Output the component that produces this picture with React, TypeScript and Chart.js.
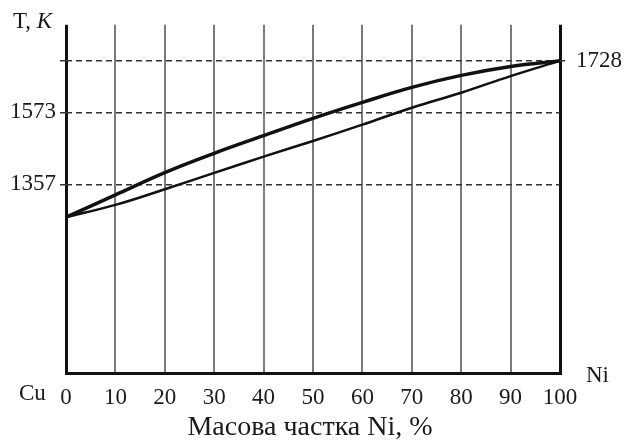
import React, { useEffect, useRef } from "react";
import { Chart, registerables } from "chart.js";

Chart.register(...registerables);

// Mass fraction of Ni, %
const niPercent = [0, 10, 20, 30, 40, 50, 60, 70, 80, 90, 100];
// Liquidus (upper curve), K
const liquidus = [1258, 1325, 1392, 1450, 1503, 1555, 1603, 1648, 1684, 1711, 1728];
// Solidus (lower curve), K
const solidus = [1258, 1295, 1342, 1391, 1440, 1487, 1536, 1587, 1632, 1682, 1728];
// Marked temperatures on the axis, K
const leftTicks = [1357, 1573];
const rightTicks = [1728];
const xTicks = [0, 10, 20, 30, 40, 50, 60, 70, 80, 90, 100];

const SERIF = "'Liberation Serif', 'Times New Roman', serif";
const INK = "#1a1a1a";

const textPlugin = {
  id: "diagramText",
  afterDraw(chart: any) {
    const ctx = chart.ctx as CanvasRenderingContext2D;
    ctx.save();
    ctx.fillStyle = INK;
    ctx.textBaseline = "middle";
    ctx.textAlign = "left";
    // T, K
    ctx.font = `23px ${SERIF}`;
    ctx.fillText("T, ", 13, 22);
    const w = ctx.measureText("T, ").width;
    ctx.font = `italic 23px ${SERIF}`;
    ctx.fillText("K", 13 + w, 22);
    // Cu / Ni
    ctx.font = `23px ${SERIF}`;
    ctx.fillText("Cu", 19, 394);
    ctx.fillText("Ni", 586, 376);
    // x title
    ctx.textAlign = "center";
    ctx.font = `28px ${SERIF}`;
    ctx.fillText("Масова частка Ni, %", 310, 428);
    ctx.restore();
  },
};

export default function App() {
  const ref = useRef<HTMLCanvasElement | null>(null);

  useEffect(() => {
    if (!ref.current) return;
    const chart = new Chart(ref.current, {
      type: "line",
      data: {
        datasets: [
          {
            label: "Liquidus",
            data: niPercent.map((x, i) => ({ x, y: liquidus[i] })),
            borderColor: "#111",
            borderWidth: 3.5,
            pointRadius: 0,
            tension: 0.4,
            fill: false,
          },
          {
            label: "Solidus",
            data: niPercent.map((x, i) => ({ x, y: solidus[i] })),
            borderColor: "#111",
            borderWidth: 2.5,
            pointRadius: 0,
            tension: 0.4,
            fill: false,
          },
        ],
      },
      options: {
        animation: false,
        responsive: false,
        devicePixelRatio: 1,
        layout: { padding: { top: 15, left: 0, right: 0, bottom: 0 } },
        plugins: { legend: { display: false }, tooltip: { enabled: false } },
        scales: {
          x: {
            type: "linear",
            min: 0,
            max: 100,
            afterBuildTicks: (s: any) => {
              s.ticks = xTicks.map((v) => ({ value: v }));
            },
            afterFit: (s: any) => {
              s.height = 73;
            },
            ticks: {
              font: { family: SERIF, size: 23 },
              color: INK,
              padding: 11,
              maxRotation: 0,
              autoSkip: false,
              callback: (v: any) => String(v),
            },
            grid: {
              drawTicks: false,
              color: (c: any) =>
                c.tick && (c.tick.value === 0 || c.tick.value === 100) ? "#111" : "#7a7a7a",
              lineWidth: (c: any) =>
                c.tick && (c.tick.value === 0 || c.tick.value === 100) ? 3 : 2,
            },
            border: { display: true, color: "#111", width: 3 },
          },
          y: {
            type: "linear",
            position: "left",
            min: 790,
            max: 1836,
            afterBuildTicks: (s: any) => {
              s.ticks = [...leftTicks, ...rightTicks].map((v) => ({ value: v }));
            },
            afterFit: (s: any) => {
              s.width = 66;
            },
            ticks: {
              font: { family: SERIF, size: 23 },
              color: INK,
              padding: 4,
              callback: (v: any) => (leftTicks.includes(v) ? String(v) : ""),
            },
            grid: {
              drawTicks: true,
              tickLength: 6,
              tickBorderDash: [6, 4],
              color: "#333",
              lineWidth: 1.5,
            },
            border: { display: false, dash: [6, 4] },
          },
          y2: {
            type: "linear",
            position: "right",
            min: 790,
            max: 1836,
            afterBuildTicks: (s: any) => {
              s.ticks = rightTicks.map((v) => ({ value: v }));
            },
            afterFit: (s: any) => {
              s.width = 67;
            },
            ticks: {
              font: { family: SERIF, size: 23 },
              color: INK,
              padding: 11,
              callback: (v: any) => String(v),
            },
            grid: {
              drawOnChartArea: false,
              drawTicks: true,
              tickLength: 5,
              tickBorderDash: [6, 4],
              color: "#333",
              lineWidth: 1.5,
            },
            border: { display: false },
          },
        },
      },
      plugins: [textPlugin],
    } as any);
    return () => chart.destroy();
  }, []);

  return (
    <div style={{ position: "absolute", left: 0, top: 0, width: 627, height: 446, background: "#fff" }}>
      <canvas ref={ref} width={627} height={446} style={{ width: 627, height: 446 }} />
    </div>
  );
}
